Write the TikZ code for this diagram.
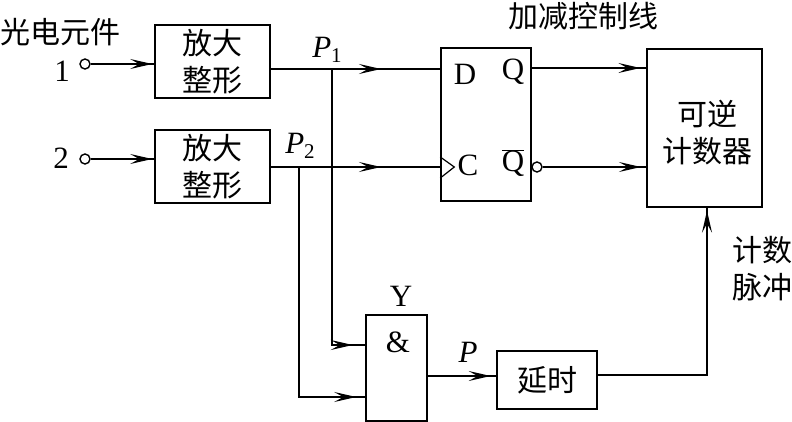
\documentclass[tikz,border=0pt]{standalone}
\usepackage{fontspec}
\usetikzlibrary{arrows.meta,positioning,calc,decorations.markings}
\setmainfont{Liberation Serif}
\newfontfamily\cjk{Noto Sans CJK SC}[Scale=1.0]
\newcommand{\subnum}[1]{\raisebox{-5pt}{\fontsize{21}{21}\selectfont #1}}
\begin{document}
\begin{tikzpicture}[
  x=1pt, y=-1pt,
  box/.style={draw=black, line width=1.8pt, inner sep=0pt, align=center, font=\fontsize{30}{37}\selectfont\cjk},
  lab/.style={inner sep=0pt, align=center, font=\fontsize{30}{37}\selectfont\cjk},
  pin/.style={inner sep=0pt, font=\fontsize{31}{32}\selectfont},
  wire/.style={draw=black, line width=1.8pt},
  thinwire/.style={draw=black, line width=1.2pt},
  port/.style={circle, draw=black, line width=1.4pt, fill=white, minimum size=10pt, inner sep=0pt},
  tip/.style={postaction={decorate}, decoration={markings, mark=at position #1 with {\arrow{Stealth[length=22pt, width=10pt, inset=9pt]}}}}
]
\useasboundingbox (0,0) rectangle (792,422);

% left column
\node[box, minimum width=115pt, minimum height=73pt] (amp1) at (212.5,61.5) {放大\\整形};
\node[box, minimum width=115pt, minimum height=73pt, below=30pt of amp1] (amp2) {放大\\整形};
\node[port] (in1) at (85,64) {};
\node[port] (in2) at (85,159) {};
\node[lab] (opto) at (61,32) {光电元件};
\node[pin] (n1) at (62,71) {1};
\node[pin] (n2) at (61,158) {2};

% flip-flop and counter
\node[box, line width=1.4pt, minimum width=90pt, minimum height=153pt] (ff) at (486,124.5) {};
\node[box, minimum width=115pt, minimum height=158pt] (cnt) at (704.5,128) {};
\node[lab] (cntlab) at (707,133) {可逆\\计数器};
\node[lab] (ctrl) at (583,16) {加减控制线};
\node[pin] (d) at (465,74) {D};
\node[pin] (q) at (513,72) {Q};
\node[pin] (c) at (468,165) {C};
\node[pin] (qb) at (513,163) {$\overline{\mbox{Q}}$};
\node[port, minimum size=10pt] (bub) at (537,167) {};
\coordinate (dpin) at (ff.west |- 0,69);
\coordinate (cpin) at (ff.west |- 0,167);
\draw[thinwire] ($(cpin)+(0,-10)$) -- ($(cpin)+(14,0)$) -- ($(cpin)+(0,11)$);

% gate and delay
\node[box, minimum width=61pt, minimum height=106pt] (gate) at (396.5,368) {};
\node[pin] (amp) at (398,342) {\&};
\node[pin] (y) at (401,296) {Y};
\node[box, minimum width=100pt, minimum height=58pt] (dly) at (547,380) {延时};
\node[lab] (pulse) at (762,269) {计数\\脉冲};
\node[pin] (p) at (468,352) {\textit{P}};
\node[pin] (p1) at (327,50) {\textit{P}\subnum{1}};
\node[pin] (p2) at (300,146) {\textit{P}\subnum{2}};
\coordinate (ga) at (gate.west |- 0,345);
\coordinate (gb) at (gate.west |- 0,397);
\coordinate (jp1) at (332,69);
\coordinate (jp2) at (299,167);

% connectors
\draw[thinwire, tip=0.97] (in1) -- (amp1.west |- in1);
\draw[thinwire, tip=0.97] (in2) -- (amp2.west |- in2);
\draw[wire, tip=0.65] (amp1.east |- dpin) -- (dpin);
\draw[thinwire, tip=0.65] (amp2.east |- cpin) -- (cpin);
\draw[wire, tip=0.96] (jp1) |- (ga);
\draw[wire, tip=0.97] (jp2) |- (gb);
\draw[wire, tip=0.95] (ff.east |- 0,68) -- (cnt.west |- 0,68);
\draw[thinwire, tip=0.95] (bub) -- (cnt.west |- bub);
\draw[wire, tip=0.92] (gate.east |- 0,376) -- (dly.west |- 0,376);
\draw[wire, tip=0.99] (dly.east |- 0,375) -| (cnt.south -| 707,0);
\end{tikzpicture}
\end{document}
